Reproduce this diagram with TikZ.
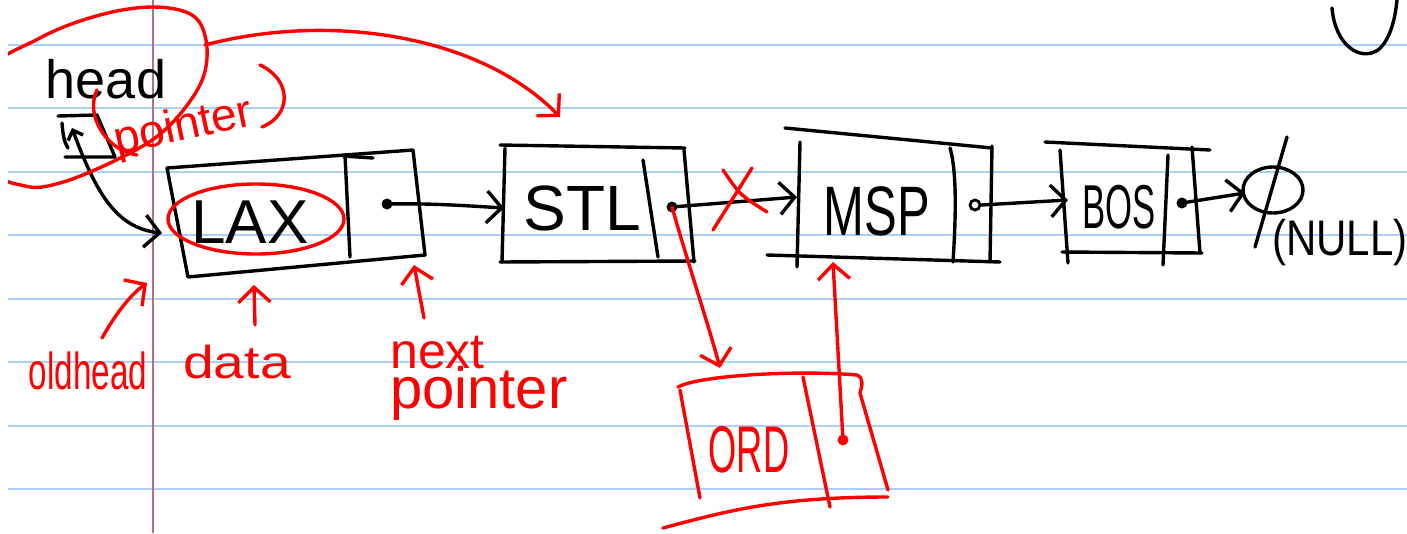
\documentclass[tikz,border=0pt]{standalone}
\usepackage{fontspec}
\setmainfont{Liberation Sans}
\usetikzlibrary{arrows.meta}
\definecolor{ruleblue}{HTML}{A9D1F7}
\definecolor{marginred}{HTML}{B5707F}
\definecolor{inkred}{HTML}{FF0000}
\newcommand{\fs}[1]{\fontsize{#1}{#1}\selectfont}
\begin{document}
\begin{tikzpicture}[x=1pt,y=-1pt,
  pen/.style={line width=3.4pt,line cap=round,line join=round},
  blk/.style={pen,black},
  rd/.style={pen,inkred},
  tip/.style={-{Straight Barb[length=15pt,width=32pt]}},
  word/.style={inner sep=0pt,anchor=base},
  blkdot/.style={circle,fill=black,inner sep=0pt,minimum size=11pt},
  rddot/.style={circle,fill=inkred,inner sep=0pt,minimum size=11pt},
  hollowdot/.style={circle,draw=black,line width=2.8pt,fill=white,inner sep=0pt,minimum size=10pt}]
\useasboundingbox (0,0) rectangle (1407,533);
\fill[white] (0,0) rectangle (1407,533);

% ruled paper
\foreach \yy in {45,108,172,235,299,362,426,489}
  \draw[ruleblue,line width=2pt] (8,\yy) -- (1407,\yy);
\draw[marginred,line width=1.6pt] (153,0) -- (153,533);

% ---------- head pointer ----------
\node[word,font=\fs{54}] (head) at (106,98) {head};
\draw[blk] (58,116) -- (97,115) -- (115,157) -- (65,157);
\draw[blk] (62,123) .. controls (63,135) and (64,142) .. (68,148);
\coordinate (headslot) at (72,128);
\coordinate (laxin) at (162,233);
\draw[blk,{Straight Barb[length=8pt,width=16pt]}-{Straight Barb[length=15pt,width=32pt]}]
  (headslot) .. controls (95,190) and (115,228) .. (laxin);

% ---------- list nodes ----------
% LAX
\draw[blk] (167,168) -- (413,150) -- (425,255) -- (188,277) -- cycle;
\draw[blk] (345,155) -- (350,257);
\draw[blk] (343,156) -- (373,158);
\node[word,font=\fs{62}] (lax) at (250,243) {LAX};
\node[blkdot] (laxp) at (387,204) {};

% STL
\draw[blk] (500,145) -- (685,148);
\draw[blk] (505,148) -- (502,262);
\draw[blk] (684,150) -- (694,262);
\draw[blk] (500,262) -- (695,261);
\draw[blk] (643,160) -- (658,257);
\node[word,font=\fs{64}] (stl) at (582,230) {STL};
\node[blkdot] (stlp) at (672,207) {};
\coordinate (stlin) at (504,208);

% MSP
\draw[blk] (785,128) -- (992,148);
\draw[blk] (800,142) -- (797,267);
\draw[blk] (992,146) -- (990,262);
\draw[blk] (767,255) -- (1000,262);
\draw[blk] (950,148) .. controls (958,175) and (955,230) .. (953,262);
\node[word,font=\fs{70},xscale=0.7] (msp) at (877,235) {MSP};
\node[hollowdot] (mspp) at (975,205) {};
\coordinate (mspin) at (797,197);
\coordinate (mspbottom) at (833,262);

% BOS
\draw[blk] (1045,142) -- (1210,150);
\draw[blk] (1060,150) -- (1068,263);
\draw[blk] (1062,252) -- (1202,253);
\draw[blk] (1192,147) -- (1200,253);
\draw[blk] (1168,155) -- (1163,265);
\node[word,font=\fs{62},xscale=0.56] (bos) at (1119,228) {BOS};
\node[blkdot] (bosp) at (1182,203) {};
\coordinate (bosin) at (1068,200);

% NULL
\draw[blk] (1273,190) ellipse [x radius=30,y radius=23];
\coordinate (nullin) at (1245,193);
\draw[blk] (1287,137) -- (1255,247);
\node[word,font=\fs{50},xscale=0.84] (nulltext) at (1340,255) {(NULL)};

% next links
\draw[blk,tip] (laxp.center) .. controls (430,203) and (470,206) .. (stlin);
\draw[blk,tip] (stlp.center) -- (mspin);
\draw[blk,tip] (mspp.east) -- (bosin);
\draw[blk,tip] (bosp.center) -- (nullin);

% ---------- red annotations ----------
% loop round head
\begin{scope}
  \clip (8,0) rectangle (1407,533);
  \draw[rd] plot[smooth cycle,tension=0.6] coordinates {
    (-20,80) (40,38) (100,15) (153,7) (192,15) (206,40) (204,75)
    (185,108) (155,138) (110,163) (60,183) (25,186) (-10,165)};
\end{scope}
\draw[rd] (97,90) .. controls (85,114) and (105,150) .. (137,155);
\draw[rd] (260,65) .. controls (292,80) and (292,115) .. (262,127);
\node[word,font=\fs{46},text=inkred,rotate=12] (ptrnote) at (186,140) {pointer};
\coordinate (loopedge) at (205,45);
\coordinate (stltop) at (560,117);
\draw[rd,tip] (loopedge) .. controls (330,12) and (480,35) .. (stltop);

% data ellipse
\draw[rd] (256,219) ellipse [x radius=88,y radius=35];

% labels under the first node
\node[word,font=\fs{52},text=inkred,xscale=0.64] (oldhead) at (88,389) {oldhead};
\coordinate (oldheadtip) at (147,283);
\draw[rd,tip] (102,338) .. controls (115,315) and (130,295) .. (oldheadtip);

\node[word,font=\fs{46},text=inkred,xscale=1.2] (data) at (237,378) {data};
\coordinate (datatip) at (254,285);
\draw[rd,tip] (255,325) -- (datatip);

\node[word,font=\fs{50},text=inkred,anchor=base west] (nextw) at (390,368) {next};
\node[word,font=\fs{58},text=inkred,anchor=base west] (pointerw) at (390,408) {pointer};
\coordinate (nexttip) at (414,265);
\draw[rd,tip] (424,318) -- (nexttip);

% crossed-out link
\draw[rd] (723,170) .. controls (740,195) .. (767,212);
\draw[rd] (752,168) -- (713,230);

% ORD inserted node
\draw[rd] (678,387) .. controls (700,375) and (800,370) .. (857,375)
          .. controls (864,378) and (862,386) .. (860,393);
\draw[rd] (680,390) -- (700,498);
\draw[rd] (860,393) -- (888,490);
\draw[rd] (663,528) .. controls (730,510) and (780,497) .. (888,497);
\draw[rd] (803,377) -- (830,507);
\node[word,font=\fs{66},text=inkred,xscale=0.55] (ord) at (749,472) {ORD};
\node[rddot] (ordp) at (843,440) {};
\coordinate (ordtop) at (720,368);
\draw[rd,tip] (stlp.center) .. controls (690,270) and (710,330) .. (ordtop);
\draw[rd,tip] (ordp.center) -- (mspbottom);

% stroke at the top right corner
\draw[blk] (1332,8) .. controls (1335,45) and (1360,62) .. (1378,50)
           .. controls (1390,40) and (1395,20) .. (1397,0);
\end{tikzpicture}
\end{document}
